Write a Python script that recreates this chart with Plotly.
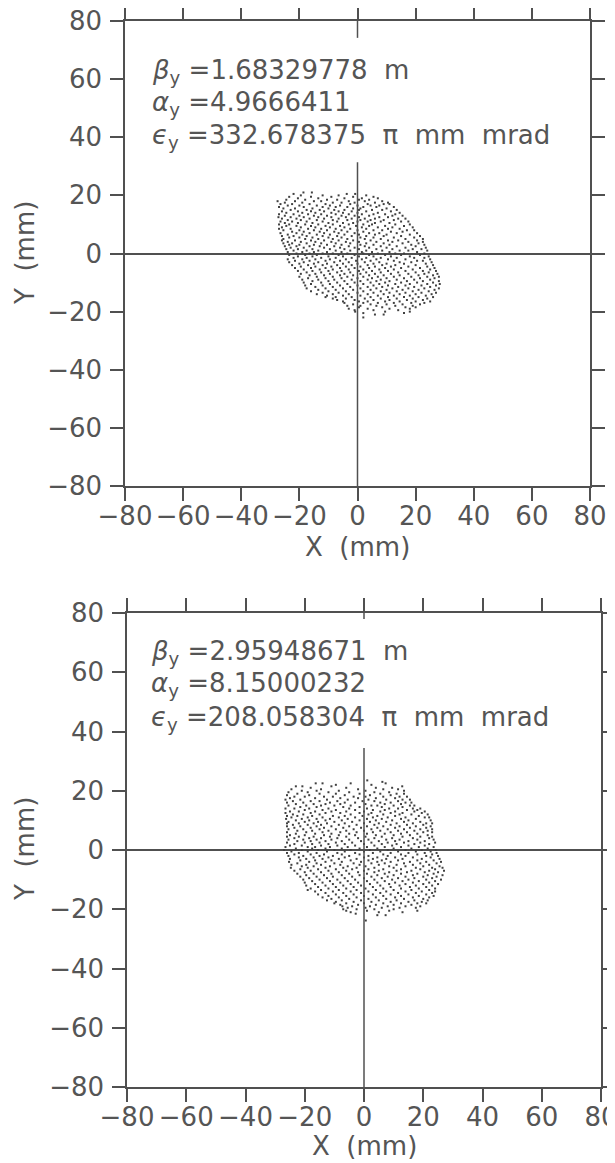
import plotly.graph_objects as go

# ---------------- data (mm) ----------------
TICKS = [-80, -60, -40, -20, 0, 20, 40, 60, 80]

TOP_TEXT = ["<i>β</i><sub>y</sub>\u00a0=1.68329778\u00a0\u00a0m",
            "<i>α</i><sub>y</sub>\u00a0=4.9666411",
            "<i>ϵ</i><sub>y</sub>\u00a0=332.678375\u00a0\u00a0π\u00a0\u00a0mm\u00a0\u00a0mrad"]
BOT_TEXT = ["<i>β</i><sub>y</sub>\u00a0=2.95948671\u00a0\u00a0m",
            "<i>α</i><sub>y</sub>\u00a0=8.15000232",
            "<i>ϵ</i><sub>y</sub>\u00a0=208.058304\u00a0\u00a0π\u00a0\u00a0mm\u00a0\u00a0mrad"]

# top panel particles: rows of (Y, [X...])
TOP_ROWS = [
    (21.0, [-18.6, -15.7]),
    (20.5, [-22.0, -3.7, -0.8]),
    (20.0, [-19.5, -12.0, -6.5, 3.0]),
    (19.5, [-23.5, -16.0, -9.0, -1.5, 5.5]),
    (19.0, [-20.5, -13.5, -4.5, 1.5, 7.0]),
    (18.5, [-24.5, -18.0, -10.5, -7.0, 0.5, 4.0]),
    (18.0, [-27.5, -21.5, -15.0, -12.5, -3.0, 2.5, 8.5]),
    (17.5, [-25.0, -19.0, -8.5, -5.5, -1.0, 6.0, 10.5]),
    (17.0, [-26.5, -22.5, -16.5, -11.0, -2.5, 3.5, 9.0, 11.0]),
    (16.5, [-24.0, -20.0, -14.0, -9.5, -6.0, 0.0, 4.5, 7.5]),
    (16.0, [-27.0, -18.5, -12.0, -7.5, -3.5, 2.0, 6.5, 12.5]),
    (15.5, [-25.5, -21.5, -15.5, -10.0, -1.5, 1.0, 10.0]),
    (15.0, [-23.0, -17.5, -13.0, -8.0, -4.5, 0.5, 5.0, 8.5, 13.5]),
    (14.5, [-26.0, -20.5, -16.0, -11.5, -6.5, -2.0, 3.0, 11.5]),
    (14.0, [-24.5, -19.0, -14.5, -9.0, -5.0, 0.0, 7.0, 14.5]),
    (13.5, [-27.0, -22.0, -17.0, -12.5, -7.5, -3.0, 1.5, 5.5, 9.5, 13.0]),
    (13.0, [-25.0, -20.0, -15.0, -10.5, -5.5, -1.0, 4.0, 12.0, 15.5]),
    (12.5, [-27.2, -23.0, -18.5, -13.5, -9.0, -4.0, 0.5, 7.5, 10.5]),
    (12.0, [-26.0, -21.0, -16.5, -11.5, -6.5, -2.0, 2.5, 6.0, 14.0, 16.5]),
    (11.5, [-24.0, -19.5, -14.0, -8.5, -3.5, 1.0, 4.5, 9.0, 12.5]),
    (11.0, [-26.5, -22.5, -17.5, -12.0, -7.0, 0.0, 3.5, 8.0, 15.0, 17.5]),
    (10.5, [-25.0, -20.5, -15.5, -10.0, -5.0, -1.5, 6.0, 11.0]),
    (10.0, [-27.0, -23.5, -18.0, -13.5, -8.5, -3.0, 2.0, 5.0, 13.0, 18.0]),
    (9.5, [-24.5, -21.0, -16.0, -11.0, -6.0, -0.5, 4.0, 9.5, 16.0]),
    (9.0, [-26.0, -19.5, -14.5, -9.5, -4.5, 1.5, 7.0, 12.0, 19.0]),
    (8.5, [-27.0, -23.0, -17.0, -12.5, -7.5, -2.5, 3.0, 10.5, 14.5]),
    (8.0, [-25.5, -20.0, -15.0, -10.5, -5.5, 0.0, 5.5, 8.5, 17.0, 19.5]),
    (7.5, [-22.5, -18.5, -13.0, -8.0, -3.5, 2.0, 11.5, 15.5]),
    (7.0, [-26.5, -21.0, -16.5, -11.5, -6.5, -1.0, 4.0, 7.5, 13.5, 20.5]),
    (6.5, [-24.0, -19.0, -14.0, -9.5, -4.5, 0.5, 6.0, 10.0, 18.0]),
    (6.0, [-26.0, -22.0, -17.5, -12.0, -7.0, -2.0, 3.0, 9.0, 15.0, 21.5]),
    (5.5, [-23.5, -20.0, -15.5, -10.0, -5.5, 1.0, 5.5, 12.5, 19.5]),
    (5.0, [-25.5, -18.0, -13.5, -8.5, -3.5, 2.5, 8.0, 16.5, 22.5]),
    (4.5, [-26.0, -21.5, -16.0, -11.5, -6.5, -1.5, 4.5, 10.5, 14.0, 20.5]),
    (4.0, [-24.0, -19.5, -14.5, -9.0, -4.0, 0.5, 6.5, 12.0, 17.5, 22.5]),
    (3.5, [-25.5, -22.5, -17.5, -12.5, -7.5, -2.5, 3.0, 9.0, 15.5, 21.0]),
    (3.0, [-23.5, -20.0, -15.0, -10.5, -5.5, 1.0, 5.5, 11.0, 18.5, 23.0]),
    (2.5, [-25.0, -21.0, -16.5, -13.0, -8.0, -3.0, 2.5, 8.0, 13.5, 20.0]),
    (2.0, [-23.0, -18.5, -11.5, -6.0, -1.0, 4.0, 10.0, 16.5, 23.5]),
    (1.5, [-24.5, -20.5, -15.5, -9.5, -4.5, 0.5, 6.5, 12.0, 19.0, 22.0]),
    (1.0, [-22.0, -17.5, -13.5, -7.5, -2.5, 3.0, 8.5, 14.5, 17.5, 24.0]),
    (0.5, [-24.0, -19.0, -15.0, -10.5, -5.5, 1.5, 5.0, 11.0, 20.5]),
    (0.0, [-21.0, -16.5, -12.0, -8.5, -3.5, 2.0, 7.0, 13.0, 16.0, 23.0]),
    (-0.5, [-23.5, -18.0, -14.0, -6.5, -1.0, 4.0, 9.5, 15.0, 21.5]),
    (-1.0, [-20.5, -15.5, -10.0, -5.0, 0.5, 5.5, 11.5, 18.0, 24.5]),
    (-1.5, [-22.0, -17.5, -12.5, -7.5, -2.0, 3.0, 8.0, 13.5, 19.5, 23.0]),
    (-2.0, [-24.0, -19.0, -14.5, -9.5, -4.0, 1.5, 6.5, 10.5, 16.5, 25.0]),
    (-2.5, [-21.5, -16.5, -11.0, -6.0, -0.5, 4.5, 12.5, 20.5, 22.5]),
    (-3.0, [-23.5, -18.5, -13.5, -8.0, -3.0, 2.5, 7.5, 14.5, 18.5, 25.5]),
    (-3.5, [-20.0, -15.0, -10.5, -5.0, 0.0, 5.5, 10.0, 16.0, 23.5]),
    (-4.0, [-22.5, -17.0, -12.0, -7.0, -2.0, 3.5, 8.5, 13.0, 20.0, 26.0]),
    (-4.5, [-19.5, -14.5, -9.0, -4.0, 1.0, 6.0, 11.5, 17.5, 24.0]),
    (-5.0, [-21.5, -16.0, -11.0, -6.0, -1.0, 4.0, 9.5, 15.0, 21.5, 26.5]),
    (-5.5, [-18.5, -13.0, -8.5, -3.0, 2.0, 7.5, 12.5, 19.0, 25.0]),
    (-6.0, [-20.5, -15.5, -10.0, -5.5, 0.5, 5.0, 10.5, 16.5, 22.5, 27.0]),
    (-6.5, [-17.5, -12.5, -7.0, -2.5, 3.0, 8.0, 14.0, 20.0, 24.5]),
    (-7.0, [-19.5, -14.5, -9.5, -4.5, 1.0, 6.0, 11.5, 17.5, 23.0, 27.5]),
    (-7.5, [-16.5, -11.5, -6.0, -1.5, 4.0, 9.0, 14.5, 21.0, 26.0]),
    (-8.0, [-20.0, -14.0, -8.5, -3.5, 2.0, 7.0, 12.5, 18.5, 24.0, 28.0]),
    (-8.5, [-17.0, -11.0, -5.5, 0.0, 5.0, 10.0, 16.0, 21.5, 26.5]),
    (-9.0, [-19.0, -13.5, -8.0, -2.0, 3.5, 8.0, 13.5, 19.5, 25.0]),
    (-9.5, [-15.5, -10.0, -4.5, 1.0, 6.5, 11.0, 17.0, 22.5, 28.0]),
    (-10.0, [-18.5, -12.5, -7.0, -1.0, 4.5, 9.5, 15.0, 20.5, 26.0]),
    (-10.5, [-16.0, -9.5, -3.5, 2.0, 7.5, 13.0, 18.0, 24.0, 28.3]),
    (-11.0, [-18.0, -12.0, -6.0, 0.0, 5.5, 10.5, 16.5, 22.0, 27.0]),
    (-11.5, [-14.5, -8.5, -2.5, 3.5, 8.5, 14.0, 19.5, 25.0]),
    (-12.0, [-17.5, -11.0, -5.0, 1.0, 6.5, 12.0, 17.5, 23.0, 28.0]),
    (-12.5, [-13.5, -7.5, -1.5, 4.5, 10.0, 15.5, 21.0, 26.5]),
    (-13.0, [-16.0, -10.0, -4.0, 2.0, 8.0, 13.5, 19.0, 24.5]),
    (-13.5, [-12.0, -6.5, 0.0, 5.5, 11.0, 16.5, 22.0, 27.0]),
    (-14.0, [-14.0, -8.5, -3.0, 3.5, 9.0, 14.5, 20.0, 25.5]),
    (-14.5, [-10.5, -5.0, 1.0, 7.0, 12.5, 18.0, 23.5]),
    (-15.0, [-11.0, -7.5, -2.0, 4.5, 10.5, 16.0, 21.0, 26.0]),
    (-15.5, [-8.5, -4.0, 2.5, 8.0, 13.5, 19.0, 24.0]),
    (-16.0, [-7.0, -1.0, 5.5, 11.0, 17.0, 22.5]),
    (-16.5, [-5.0, 0.5, 3.5, 9.5, 14.5, 20.0, 25.0]),
    (-17.0, [-4.5, 2.0, 7.0, 12.5, 18.5, 23.0]),
    (-17.5, [-1.5, 4.5, 10.0, 15.5, 21.5]),
    (-18.0, [-3.5, 1.0, 6.5, 13.0, 19.0]),
    (-18.5, [0.5, 8.5, 16.5, 20.0]),
    (-19.0, [-3.0, 3.5, 11.0, 18.0]),
    (-19.5, [-1.0, 5.5, 14.0]),
    (-20.0, [-0.8, 9.5, 18.0]),
    (-20.5, [2.0, 16.0]),
    (-21.0, [6.0, 9.0]),
    (-22.0, [2.0]),
]

# bottom panel particles: rows of (Y, [X...])
BOT_ROWS = [
    (23.5, [1.1]),
    (23.0, [6.2]),
    (22.5, [-16.3, -14.0, -4.5, 7.3]),
    (22.0, [-9.5, 2.5]),
    (21.5, [-23.0, -20.8, -11.0, 12.9]),
    (21.0, [-18.0, -6.0, 4.0, 9.5]),
    (20.5, [-24.5, -14.5, -2.0, 6.5, 11.5]),
    (20.0, [-21.0, -16.0, -8.5, 0.5, 13.5]),
    (19.5, [-25.5, -19.0, -12.0, -5.0, 3.5, 8.5]),
    (19.0, [-22.5, -15.0, -9.5, -1.5, 5.5, 11.0, 13.5]),
    (18.5, [-26.0, -18.5, -6.5, 2.0, 9.0]),
    (18.0, [-23.5, -20.0, -13.5, -10.5, -3.5, 0.5, 6.5, 12.0, 14.5]),
    (17.5, [-25.0, -16.5, -8.0, -2.0, 4.0, 10.5]),
    (17.0, [-26.5, -21.5, -12.5, -5.5, 1.5, 7.5, 13.0, 15.5]),
    (16.5, [-24.0, -18.0, -15.0, -9.0, -0.5, 3.5, 11.5]),
    (16.0, [-26.0, -20.5, -11.5, -6.5, -3.0, 5.5, 9.0, 14.0, 16.0]),
    (15.5, [-23.0, -17.0, -13.0, -8.0, 0.5, 7.0, 12.5]),
    (15.0, [-25.5, -19.5, -14.5, -10.0, -4.5, 2.5, 4.5, 10.0, 15.5, 17.0]),
    (14.5, [-21.5, -16.0, -7.0, -1.5, 6.0, 13.0]),
    (14.0, [-26.5, -23.5, -18.5, -12.0, -5.0, 1.0, 8.5, 11.5, 16.5, 19.0]),
    (13.5, [-20.0, -14.0, -9.5, -3.0, 3.0, 7.0, 14.5, 18.0]),
    (13.0, [-25.0, -22.0, -16.5, -11.0, -6.0, 0.0, 5.5, 10.5, 17.0, 20.5]),
    (12.5, [-26.5, -18.0, -13.0, -8.0, -1.5, 2.5, 9.0, 13.0, 19.5]),
    (12.0, [-24.0, -20.5, -15.0, -4.5, 1.5, 6.5, 12.0, 16.0, 21.5]),
    (11.5, [-26.0, -22.5, -17.5, -10.5, -6.5, -0.5, 4.5, 10.5, 18.5]),
    (11.0, [-24.5, -19.0, -14.0, -8.5, -3.0, 3.0, 8.0, 14.0, 20.5, 22.0]),
    (10.5, [-26.3, -21.0, -16.0, -11.5, -5.5, 1.0, 6.0, 12.5, 17.5]),
    (10.0, [-23.0, -18.5, -13.0, -7.5, -1.5, 4.0, 9.5, 15.0, 22.5]),
    (9.5, [-25.5, -20.0, -15.5, -10.0, -4.0, 2.0, 7.5, 13.5, 19.0]),
    (9.0, [-26.0, -22.0, -17.0, -12.5, -6.5, 0.0, 5.0, 11.0, 16.5, 21.0, 23.0]),
    (8.5, [-24.0, -19.0, -14.5, -8.5, -2.5, 3.5, 9.0, 14.5, 20.0]),
    (8.0, [-26.0, -21.5, -16.0, -11.0, -5.0, 1.0, 6.5, 12.0, 17.5, 22.5]),
    (7.5, [-23.5, -18.0, -13.5, -7.0, -1.0, 4.5, 10.5, 15.5, 21.0]),
    (7.0, [-25.5, -20.5, -15.0, -9.5, -3.5, 2.5, 8.0, 13.5, 19.0, 23.0]),
    (6.5, [-22.5, -17.5, -12.0, -6.0, 0.0, 5.5, 11.5, 17.0, 21.5]),
    (6.0, [-26.0, -19.5, -14.0, -8.0, -2.5, 3.0, 9.0, 14.5, 20.0, 23.0]),
    (5.5, [-23.0, -16.5, -11.0, -5.0, 1.0, 7.0, 12.5, 18.0]),
    (5.0, [-25.0, -20.0, -13.5, -8.5, -3.0, 4.0, 10.0, 15.5, 21.5]),
    (4.5, [-26.0, -22.0, -17.0, -11.5, -6.0, 0.5, 6.0, 13.0, 19.0, 23.0]),
    (4.0, [-23.5, -18.5, -14.5, -9.0, -2.0, 3.5, 9.5, 16.5, 22.0]),
    (3.5, [-25.5, -20.5, -16.0, -11.0, -5.0, 1.5, 7.5, 12.0, 18.0, 23.5]),
    (3.0, [-22.5, -18.0, -13.0, -7.5, -1.0, 5.0, 10.5, 15.0, 20.5]),
    (2.5, [-26.0, -20.0, -15.0, -9.5, -4.0, 2.5, 8.0, 13.5, 19.0, 24.0]),
    (2.0, [-23.5, -17.5, -12.0, -6.5, 0.0, 6.0, 11.0, 17.0, 22.0]),
    (1.5, [-25.0, -21.0, -14.5, -9.0, -3.0, 3.5, 9.5, 15.0, 20.5]),
    (1.0, [-26.5, -19.0, -16.5, -11.5, -5.5, 1.0, 7.0, 12.5, 18.5, 23.5]),
    (0.5, [-23.0, -17.5, -13.0, -7.5, -1.5, 4.5, 10.0, 16.0, 21.5]),
    (0.0, [-27.0, -21.0, -15.5, -10.0, -4.5, 2.0, 8.0, 14.0, 19.5, 24.2]),
    (-0.5, [-24.5, -19.0, -12.5, -6.5, 0.0, 5.5, 11.5, 17.5, 22.5]),
    (-1.0, [-26.0, -22.0, -16.0, -9.0, -3.0, 3.0, 9.0, 15.0, 20.5, 24.5]),
    (-1.5, [-23.5, -18.0, -13.5, -7.5, -1.5, 6.5, 12.5, 18.0, 23.0]),
    (-2.0, [-25.5, -20.5, -15.0, -10.5, -5.0, 1.5, 8.0, 14.0, 21.0, 25.0]),
    (-2.5, [-22.0, -17.0, -12.0, -6.5, 0.0, 4.5, 10.5, 16.5, 22.5]),
    (-3.0, [-25.0, -19.5, -14.0, -8.5, -2.5, 3.0, 7.5, 13.0, 19.5, 25.5]),
    (-3.5, [-21.5, -16.5, -11.0, -4.5, 1.5, 6.0, 11.5, 18.0, 23.5]),
    (-4.0, [-25.3, -18.5, -13.0, -7.5, -1.0, 4.5, 9.0, 15.5, 21.0, 26.0]),
    (-4.5, [-22.5, -16.0, -10.0, -3.5, 2.5, 7.0, 13.5, 19.0, 24.5]),
    (-5.0, [-24.5, -19.5, -14.5, -8.0, -1.5, 5.0, 11.0, 16.5, 22.0]),
    (-5.5, [-21.0, -17.0, -11.5, -5.5, 0.5, 8.5, 14.0, 20.0, 25.5]),
    (-6.0, [-24.7, -19.0, -13.0, -7.0, -2.5, 3.5, 10.0, 17.5, 23.0, 26.5]),
    (-6.5, [-21.5, -15.5, -9.5, -4.0, 1.5, 6.5, 12.5, 19.0, 24.0]),
    (-7.0, [-23.5, -18.0, -12.0, -6.0, 0.0, 5.0, 11.0, 16.0, 22.0, 27.0]),
    (-7.5, [-20.0, -14.5, -8.5, -2.0, 3.5, 8.5, 14.5, 20.5, 25.0]),
    (-8.0, [-22.5, -17.0, -11.0, -5.0, 1.0, 7.0, 12.5, 18.0, 23.5]),
    (-8.5, [-19.5, -13.5, -7.5, -1.5, 4.5, 10.0, 16.5, 21.5, 26.5]),
    (-9.0, [-21.5, -16.0, -10.5, -4.0, 2.5, 8.0, 14.0, 20.0, 24.5]),
    (-9.5, [-18.5, -12.5, -6.5, 0.0, 6.0, 11.5, 17.0, 23.0]),
    (-10.0, [-20.5, -15.0, -9.0, -3.0, 3.5, 9.5, 15.0, 21.0, 26.0]),
    (-10.5, [-17.5, -11.5, -5.5, 1.0, 7.0, 13.0, 18.5, 24.0]),
    (-11.0, [-20.0, -14.0, -8.0, -2.0, 4.5, 10.5, 16.5, 22.0]),
    (-11.5, [-16.5, -10.5, -4.5, 2.0, 8.5, 14.0, 20.0, 25.0]),
    (-12.0, [-19.5, -13.0, -7.0, -1.0, 5.5, 12.0, 17.5, 23.0]),
    (-12.5, [-15.5, -9.5, -3.5, 3.0, 9.0, 15.5, 21.0]),
    (-13.0, [-18.0, -12.0, -6.0, 0.5, 6.5, 12.5, 18.5, 24.0]),
    (-13.5, [-19.0, -14.5, -8.5, -2.5, 4.0, 10.0, 16.0, 22.0]),
    (-14.0, [-16.5, -10.5, -4.5, 1.5, 7.5, 14.0, 19.5, 24.0]),
    (-14.5, [-13.0, -7.0, -1.0, 5.5, 11.5, 17.5, 23.0]),
    (-15.0, [-15.5, -9.5, -3.5, 3.0, 9.0, 15.0, 21.0]),
    (-15.5, [-12.0, -6.0, 0.0, 6.5, 12.5, 18.5, 23.5]),
    (-16.0, [-14.0, -8.5, -2.5, 4.0, 10.5, 16.5, 22.0]),
    (-16.5, [-11.0, -5.0, 1.5, 7.5, 13.5, 20.0]),
    (-17.0, [-12.5, -7.5, -1.0, 5.0, 11.0, 17.0, 21.5]),
    (-17.5, [-9.5, -3.5, 2.5, 9.0, 15.0, 19.5]),
    (-18.0, [-10.0, -6.0, 0.0, 6.5, 12.5, 18.0, 21.0]),
    (-18.5, [-8.0, -2.0, 4.0, 10.0, 16.0]),
    (-19.0, [-7.3, -4.0, 2.0, 8.0, 14.0, 19.0]),
    (-19.5, [-5.5, 0.5, 6.0, 12.0, 17.5]),
    (-20.0, [-7.0, -2.5, 3.5, 10.0]),
    (-20.5, [-6.0, 1.0, 8.5, 18.0]),
    (-21.0, [-4.5, 5.0, 13.0]),
    (-21.5, [-2.8]),
    (-22.0, [4.5, 7.3]),
    (-23.8, [0.6]),
]


def flatten(rows):
    xs, ys = [], []
    for y, row in rows:
        for x in row:
            xs.append(x)
            ys.append(y)
    return xs, ys


top_x, top_y = flatten(TOP_ROWS)
bot_x, bot_y = flatten(BOT_ROWS)

# ---------------- style ----------------
INK = "#505050"
TXT = "#555555"
DOT = "#404040"
FONT = "DejaVu Sans"
FS = 26

fig = go.Figure()
for xs, ys, xa, ya in [(top_x, top_y, "x", "y"), (bot_x, bot_y, "x2", "y2")]:
    fig.add_trace(go.Scatter(x=xs, y=ys, mode="markers", xaxis=xa, yaxis=ya,
                             marker=dict(symbol="square", size=2.0, color=DOT, line=dict(width=0)),
                             showlegend=False, hoverinfo="skip"))


def axis(domain, anchor):
    return dict(domain=domain, anchor=anchor, range=[-80, 80], tickmode="array",
                tickvals=TICKS, ticktext=[("\u2212" + str(-t)) if t < 0 else str(t) for t in TICKS],
                ticks="outside", ticklen=13, tickwidth=1.5, tickcolor=INK,
                showline=True, linecolor=INK, linewidth=1.5, mirror="ticks",
                showgrid=False, zeroline=False, automargin=False,
                ticklabeloverflow="allow",
                tickfont=dict(family=FONT, size=FS, color=TXT),
                fixedrange=True)


# the page body adds an 8px offset; figure pixel = screen pixel - 8
OFF = 8
W, H = 615 - OFF, 1163 - OFF


def px_x(a, b):
    return [(a - OFF) / W, (b - OFF) / W]


def px_y(top, bottom):
    return [(H - (bottom - OFF)) / H, (H - (top - OFF)) / H]


xa1 = axis(px_x(125, 590), "y"); xa1["ticklabelstandoff"] = -7
ya1 = axis(px_y(21, 486), "x"); ya1.update(zeroline=True, zerolinecolor=INK, zerolinewidth=1.5, ticklabelstandoff=3)
xa2 = axis(px_x(127, 601), "y2"); xa2["ticklabelstandoff"] = -7
ya2 = axis(px_y(613, 1087), "x2"); ya2.update(zeroline=True, zerolinecolor=INK, zerolinewidth=1.5, ticklabelstandoff=3)

shapes = [
    dict(type="line", xref="x", yref="y", x0=0, x1=0, y0=-80, y1=31.4, line=dict(color=INK, width=1.5)),
    dict(type="line", xref="x", yref="y", x0=0, x1=0, y0=80, y1=74.2, line=dict(color=INK, width=1.5)),
    dict(type="line", xref="x2", yref="y2", x0=0, x1=0, y0=-80, y1=34.4, line=dict(color=INK, width=1.5)),
    dict(type="line", xref="x2", yref="y2", x0=0, x1=0, y0=80, y1=78.0, line=dict(color=INK, width=1.5)),
]

annotations = []
for txt, yv in zip(TOP_TEXT, [62.7, 51.7, 40.2]):
    annotations.append(dict(text=txt, x=-71.5, y=yv, xref="x", yref="y", xanchor="left",
                            yanchor="middle", showarrow=False,
                            font=dict(family=FONT, size=FS, color=TXT)))
for txt, yv in zip(BOT_TEXT, [66.5, 56.0, 44.5]):
    annotations.append(dict(text=txt, x=-72.5, y=yv, xref="x2", yref="y2", xanchor="left",
                            yanchor="middle", showarrow=False,
                            font=dict(family=FONT, size=FS, color=TXT)))
# axis titles (screen pixel centres)
for (sx, sy, txt, ang) in [
    (357, 547, "X\u00a0\u00a0(mm)", 0),
    (25, 253, "Y\u00a0\u00a0(mm)", -90),
    (364, 1146, "X\u00a0\u00a0(mm)", 0),
    (25, 849, "Y\u00a0\u00a0(mm)", -90),
]:
    annotations.append(dict(text=txt, x=(sx - OFF) / W, y=(H - (sy - OFF)) / H,
                            xref="paper", yref="paper",
                            xanchor="center", yanchor="middle", textangle=ang,
                            showarrow=False, font=dict(family=FONT, size=FS, color=TXT)))

fig.update_layout(width=W, height=H, margin=dict(l=0, r=0, t=0, b=0),
                  paper_bgcolor="white", plot_bgcolor="white",
                  xaxis=xa1, yaxis=ya1, xaxis2=xa2, yaxis2=ya2,
                  shapes=shapes, annotations=annotations, showlegend=False)

fig.write_html("out.html")
